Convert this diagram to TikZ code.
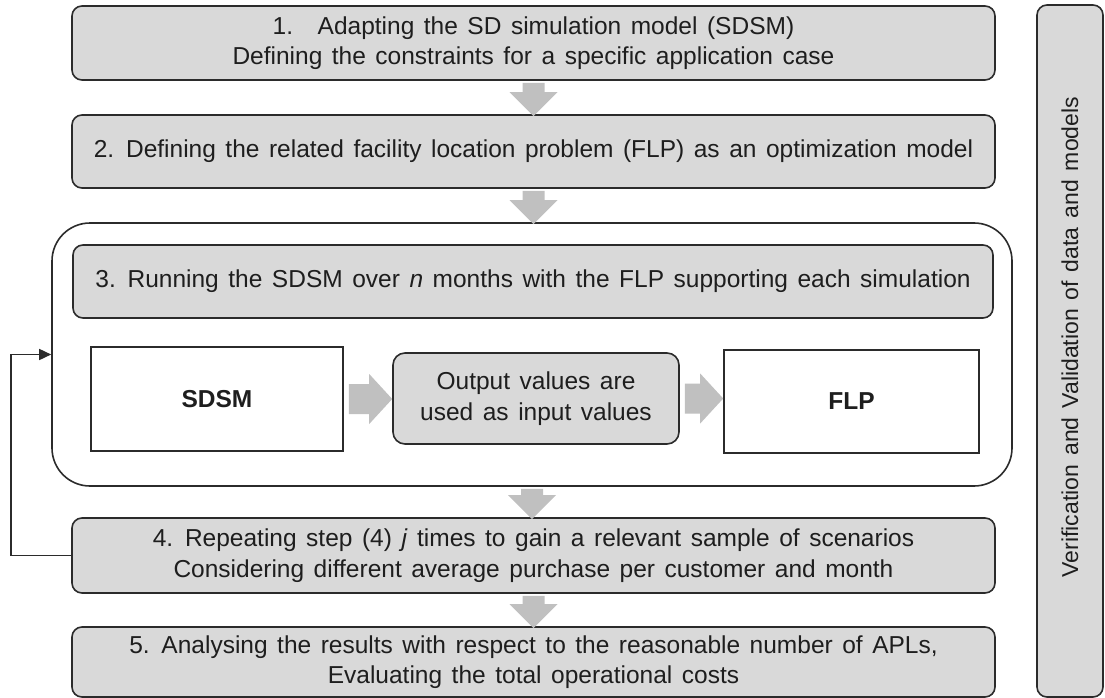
\documentclass[tikz,border=0pt]{standalone}
\usepackage{fontspec}
\setmainfont{Liberation Sans}[WordSpace = 1.4]
\usetikzlibrary{arrows.meta, calc}

\definecolor{boxgray}{HTML}{D9D9D9}
\definecolor{arrowgray}{HTML}{C0C0C0}
\definecolor{linegray}{HTML}{2B2B2B}
\definecolor{textgray}{HTML}{1E1E1E}

\newcommand{\downblock}[2]{%
  \fill[arrowgray] let \p1 = (#1.south), \p2 = (#2.north) in
    (\x1-11pt, \y1-2pt) -- (\x1+11pt, \y1-2pt) -- (\x1+11pt, \y2+22pt) -- (\x1+24pt, \y2+22pt)
    -- (\x1, \y2-2pt) -- (\x1-24pt, \y2+22pt) -- (\x1-11pt, \y2+22pt) -- cycle;}
\newcommand{\rightblock}[2]{%
  \fill[arrowgray] let \p1 = (#1.east), \p2 = (#2.west) in
    (\x1+5pt, \y1+15pt) -- (\x2-23pt, \y1+15pt) -- (\x2-23pt, \y1+25pt) -- (\x2, \y1)
    -- (\x2-23pt, \y1-25pt) -- (\x2-23pt, \y1-15pt) -- (\x1+5pt, \y1-15pt) -- cycle;}

\begin{document}
\begin{tikzpicture}[%
    x = 1pt, y = -1pt,
    every node/.style = {font = \fontsize{24.5}{30.5}\selectfont, text = textgray, align = center, inner sep = 0pt},
    stepbox/.style = {draw = linegray, line width = 1.6pt, fill = boxgray, rounded corners = 10pt, minimum width = 923pt},
    plainbox/.style = {draw = linegray, line width = 1.6pt, fill = white, font = \fontsize{24.5}{30.5}\selectfont\bfseries}]

    \useasboundingbox (0, 0) rectangle (1105, 698);

    \node[draw = linegray, line width = 1.6pt, fill = white, rounded corners = 38pt, minimum width = 960pt, minimum height = 263pt] (loop) at (532, 354.5) {};

    \node[stepbox, minimum height = 74pt] (s1) at (533.5, 43) {1.\quad Adapting the SD simulation model (SDSM)\\Defining the constraints for a specific application case};
    \node[stepbox, minimum height = 73pt] (s2) at (533.5, 151.5) {2. Defining the related facility location problem (FLP) as an optimization model};
    \node[stepbox, minimum width = 920pt, minimum height = 73pt] (s3) at (533, 281.5) {3. Running the SDSM over \textit{n} months with the FLP supporting each simulation};
    \node[plainbox, minimum width = 252pt, minimum height = 104pt] (sdsm) at (217, 399) {SDSM};
    \node[stepbox, minimum width = 286pt, minimum height = 91pt, rounded corners = 12pt] (out) at (536, 398.5) {Output values are\\used as input values};
    \node[plainbox, minimum width = 255pt, minimum height = 103pt] (flp) at (851.5, 401.5) {FLP};
    \node[stepbox, minimum height = 75pt] (s4) at (533.5, 555.5) {4. Repeating step (4) \textit{j} times to gain a relevant sample of scenarios\\Considering different average purchase per customer and month};
    \node[stepbox, minimum height = 70pt] (s5) at (533.5, 662) {5. Analysing the results with respect to the reasonable number of APLs,\\Evaluating the total operational costs};
    \node[stepbox, minimum width = 692pt, minimum height = 66pt, rotate = 90, font = \fontsize{23}{28}\selectfont] (vv) at (1070, 351) {\hspace*{28pt}Verification and Validation of data and models};

    \downblock{s1}{s2}
    \downblock{s2}{loop}
    \downblock{loop}{s4}
    \downblock{s4}{s5}
    \rightblock{sdsm}{out}
    \rightblock{out}{flp}

    \draw[linegray, line width = 1.6pt, -{Triangle[length = 12pt, width = 11pt]}] (s4.west) -- ++(-60, 0) |- (loop.west);
\end{tikzpicture}
\end{document}
